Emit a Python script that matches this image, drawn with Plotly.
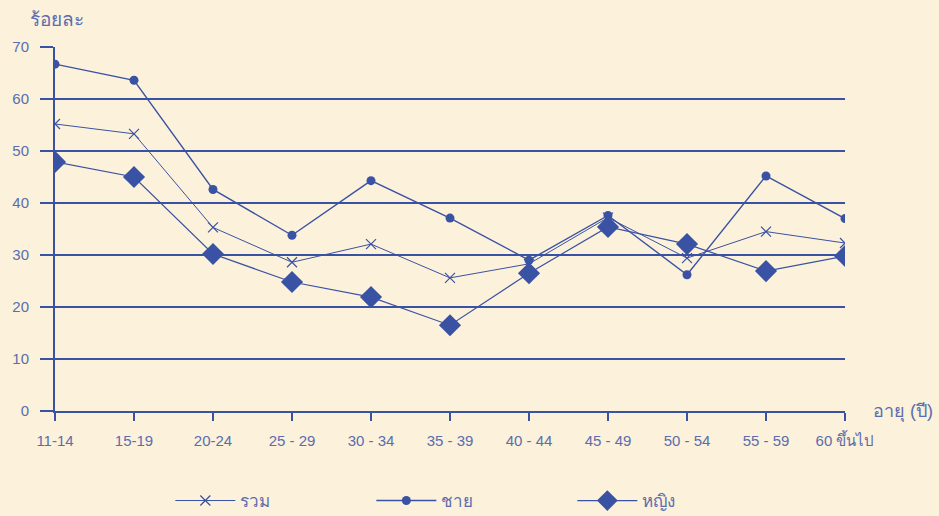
import plotly.graph_objects as go

categories = ["11-14", "15-19", "20-24", "25 - 29", "30 - 34", "35 - 39",
              "40 - 44", "45 - 49", "50 - 54", "55 - 59", "60 ขึ้นไป"]
total = [55.2, 53.3, 35.3, 28.6, 32.1, 25.6, 28.3, 37.2, 29.4, 34.5, 32.3]
male = [66.7, 63.6, 42.6, 33.8, 44.3, 37.1, 29.0, 37.6, 26.2, 45.2, 37.0]
female = [47.9, 45.0, 30.2, 24.8, 21.9, 16.5, 26.5, 35.4, 32.1, 26.9, 29.8]
y_ticks = [0, 10, 20, 30, 40, 50, 60, 70]

BLUE = "#3a52a3"
TXT = "#5a6db0"
BG = "#fcf1da"
FONT = "Liberation Sans, Arial, sans-serif"

fig = go.Figure()
fig.add_trace(go.Scatter(x=categories, y=total, name="รวม", mode="lines+markers",
                         line=dict(color=BLUE, width=1),
                         marker=dict(symbol="x-thin", size=10, line=dict(color=BLUE, width=1.2))))
fig.add_trace(go.Scatter(x=categories, y=male, name="ชาย", mode="lines+markers",
                         line=dict(color=BLUE, width=1.4),
                         marker=dict(symbol="circle", size=9, color=BLUE)))
fig.add_trace(go.Scatter(x=categories, y=female, name="หญิง", mode="lines+markers",
                         line=dict(color=BLUE, width=1.2),
                         marker=dict(symbol="diamond", size=17, color=BLUE)))

fig.update_layout(
    width=939, height=516,
    margin=dict(l=55, r=94, t=47, b=105, autoexpand=False),
    paper_bgcolor=BG, plot_bgcolor=BG,
    font=dict(family=FONT, size=15, color=TXT),
    showlegend=True,
    legend=dict(orientation="h", x=0.146, y=0.064, xref="paper", yref="container",
                xanchor="left", yanchor="top", itemwidth=60,
                entrywidth=126, entrywidthmode="pixels",
                font=dict(size=17, color=TXT), bgcolor="rgba(0,0,0,0)"),
    xaxis=dict(type="category", range=[0, 10], showgrid=False, automargin=False,
               showline=True, linecolor=BLUE, linewidth=2,
               ticks="outside", ticklen=8, tickcolor=BLUE, tickwidth=1.5,
               tickfont=dict(size=15, color=TXT), ticklabelstandoff=7,
               zeroline=False),
    yaxis=dict(range=[0, 70], tickvals=y_ticks, showgrid=True, automargin=False,
               gridcolor=BLUE, gridwidth=1.5,
               showline=True, linecolor=BLUE, linewidth=2,
               ticks="outside", ticklen=13, tickcolor=BLUE, tickwidth=1.5,
               tickfont=dict(size=15, color=TXT), ticklabelstandoff=8,
               zeroline=False),
)

fig.add_annotation(text="ร้อยละ", xref="paper", yref="paper", x=-0.034, y=1.0,
                   yshift=28, xanchor="left", yanchor="middle", showarrow=False,
                   font=dict(size=19, color=TXT))
fig.add_annotation(text="อายุ (ปี)", xref="paper", yref="paper", x=1.0, y=0,
                   xshift=26, xanchor="left", yanchor="middle", showarrow=False,
                   font=dict(size=18, color=TXT))

fig.write_html("out.html", config={"displayModeBar": False},
               post_script="document.body.style.margin='0';")
